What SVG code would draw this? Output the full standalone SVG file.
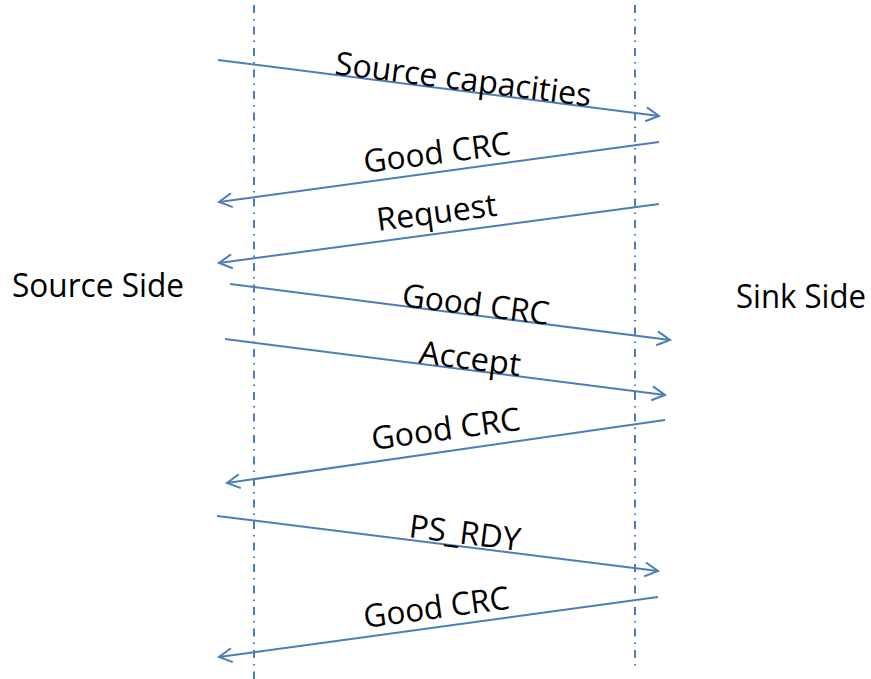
<svg xmlns="http://www.w3.org/2000/svg" width="871" height="679" viewBox="0 0 871 679">
<style>
.life{stroke:#4a7ebb;stroke-width:2;stroke-dasharray:8 6 1.5 6;fill:none}
.msg{stroke:#4a7ebb;stroke-width:2;fill:none;marker-end:url(#arr)}
.lbl{font-family:"Open Sans","Liberation Sans",sans-serif;font-size:32px;fill:#000}
</style>
<defs>
<marker id="arr" markerUnits="userSpaceOnUse" viewBox="-16 -9 20 18" refX="0" refY="0" markerWidth="20" markerHeight="18" orient="auto">
<path d="M-13,-7 L0,0 L-13,7" fill="none" stroke="#4a7ebb" stroke-width="2"/>
</marker>
</defs>
<rect width="871" height="679" fill="#fff"/>
<g id="source-side"><line class="life" x1="254" y1="5" x2="254" y2="679"/><text class="lbl" x="12" y="297" textLength="172" lengthAdjust="spacingAndGlyphs">Source Side</text></g>
<g id="sink-side"><line class="life" x1="635" y1="5" x2="635" y2="668"/><text class="lbl" x="736" y="308" textLength="130" lengthAdjust="spacingAndGlyphs">Sink Side</text></g>
<g id="connectors">
<line class="msg" x1="218" y1="60" x2="659" y2="116"/>
<line class="msg" x1="659" y1="142" x2="219" y2="202"/>
<line class="msg" x1="659" y1="204" x2="219" y2="263"/>
<line class="msg" x1="230" y1="284" x2="670" y2="340"/>
<line class="msg" x1="225" y1="339" x2="665" y2="395"/>
<line class="msg" x1="665" y1="420" x2="227" y2="483"/>
<line class="msg" x1="217" y1="516" x2="658" y2="571"/>
<line class="msg" x1="658" y1="597" x2="219" y2="657"/>
</g>
<g id="labels">
<text class="lbl" x="334" y="74" transform="rotate(7.2 334 74)" textLength="258" lengthAdjust="spacingAndGlyphs">Source capacities</text>
<text class="lbl" x="365" y="173" transform="rotate(-7.3 365 173)" textLength="148" lengthAdjust="spacingAndGlyphs">Good CRC</text>
<text class="lbl" x="378" y="231" transform="rotate(-7.4 378 231)" textLength="121" lengthAdjust="spacingAndGlyphs">Request</text>
<text class="lbl" x="401" y="306" transform="rotate(7.25 401 306)" textLength="148" lengthAdjust="spacingAndGlyphs">Good CRC</text>
<text class="lbl" x="418" y="363" transform="rotate(7.25 418 363)" textLength="102" lengthAdjust="spacingAndGlyphs">Accept</text>
<text class="lbl" x="373" y="450" transform="rotate(-7.8 373 450)" textLength="150" lengthAdjust="spacingAndGlyphs">Good CRC</text>
<text class="lbl" x="408" y="537" transform="rotate(7.1 408 537)" textLength="112" lengthAdjust="spacingAndGlyphs">PS_RDY</text>
<text class="lbl" x="365" y="628" transform="rotate(-7.6 365 628)" textLength="147" lengthAdjust="spacingAndGlyphs">Good CRC</text>
</g>
</svg>
